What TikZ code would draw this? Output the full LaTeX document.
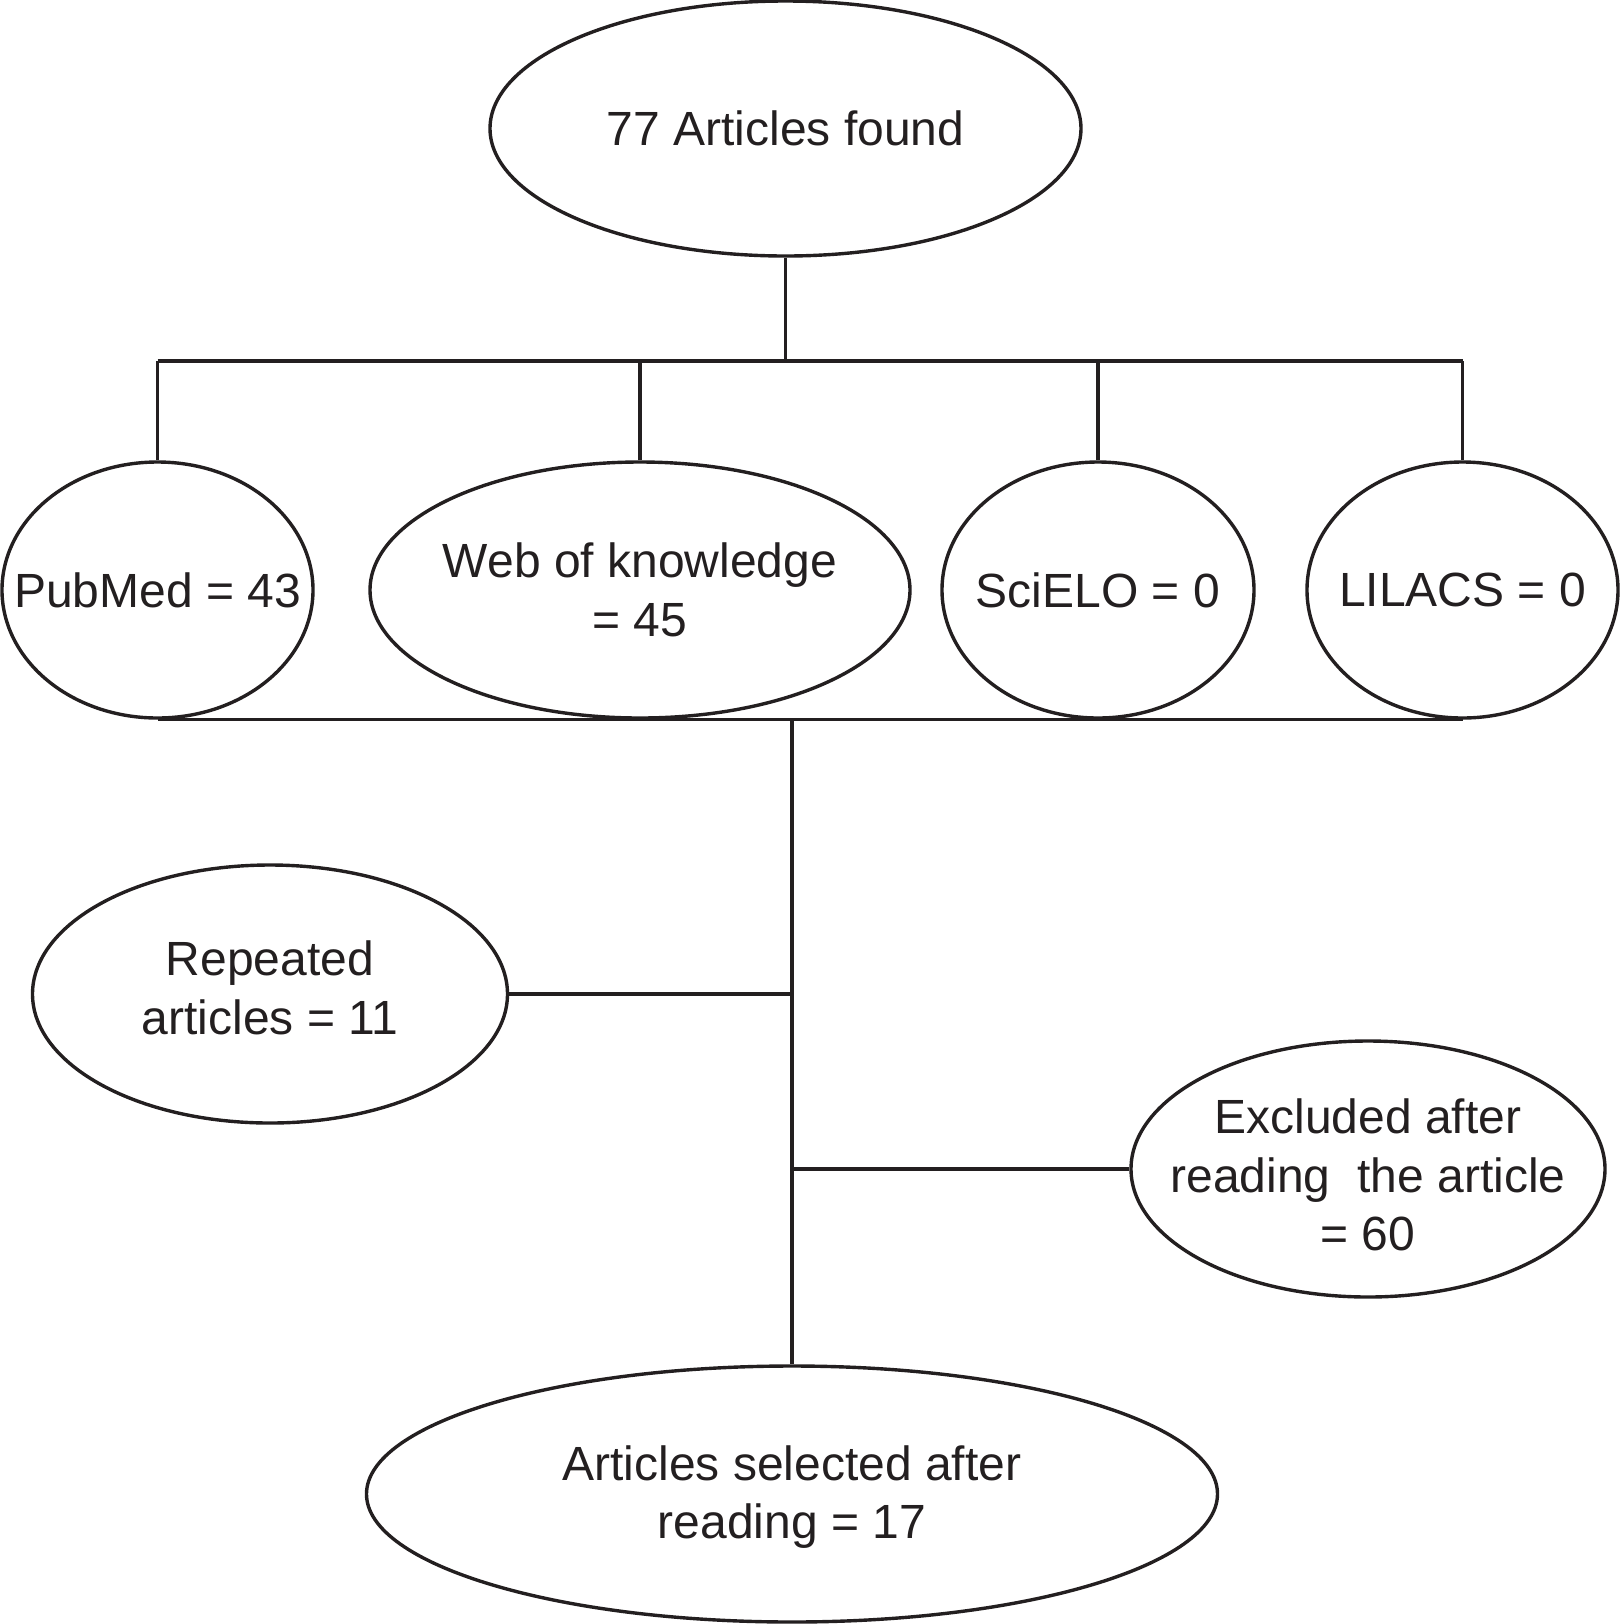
\documentclass[tikz,border=0pt]{standalone}
\usepackage{fontspec}
\setmainfont{Liberation Sans}
\usetikzlibrary{shapes.geometric}
\definecolor{ink}{HTML}{231F20}
\begin{document}
\begin{tikzpicture}[x=0.5pt,y=-0.5pt,
  ell/.style={ellipse, draw=ink, line width=1.7pt, inner sep=0pt},
  txt/.style={font=\fontsize{24}{29.2}\selectfont, text=ink, align=center, inner sep=0pt},
  conn/.style={draw=ink, line width=1.6pt}]
\useasboundingbox (0,0) rectangle (1620,1624);
% nodes
\node[ell, minimum width=295.5pt, minimum height=127.5pt,
      label={[txt]center:77 Articles found}] (top) at (785.5,128.5) {};
\node[ell, minimum width=155.5pt, minimum height=128pt,
      label={[txt]center:PubMed = 43}] (pub) at (157.5,590) {};
\node[ell, minimum width=270pt, minimum height=128pt,
      label={[txt]center:Web of knowledge\\= 45}] (wok) at (640,590) {};
\node[ell, minimum width=156pt, minimum height=128pt,
      label={[txt]center:SciELO = 0}] (sci) at (1098,590) {};
\node[ell, minimum width=155.5pt, minimum height=128pt,
      label={[txt]center:LILACS = 0}] (lil) at (1462.5,590) {};
\node[ell, minimum width=237.5pt, minimum height=129pt,
      label={[txt,yshift=3pt]center:Repeated\\articles = 11}] (rep) at (270,994) {};
\node[ell, minimum width=237pt, minimum height=128pt,
      label={[txt,yshift=-3pt]center:Excluded after\\reading\ \ the article\\= 60}] (exc) at (1368,1169) {};
\node[ell, minimum width=425.5pt, minimum height=128pt,
      label={[txt,yshift=-1.5pt]center:Articles selected after\\reading = 17}] (sel) at (792,1494) {};
% connectors
\coordinate (barL) at (157.5,361);
\coordinate (barR) at (1462.5,361);
\draw[conn] (top.south) -- (top.south |- barL);
\draw[conn] (barL) -- (barR);
\draw[conn] (pub.north) -- (pub.north |- barL);
\draw[conn] (wok.north) -- (wok.north |- barL);
\draw[conn] (sci.north) -- (sci.north |- barL);
\draw[conn] (lil.north) -- (lil.north |- barL);
\draw[conn] (pub.south) -- (lil.south);
\draw[conn] (sel.north |- pub.south) -- (sel.north);
\draw[conn] (rep.east) -- (rep.east -| sel.north);
\draw[conn] (exc.west) -- (exc.west -| sel.north);
\end{tikzpicture}
\end{document}
